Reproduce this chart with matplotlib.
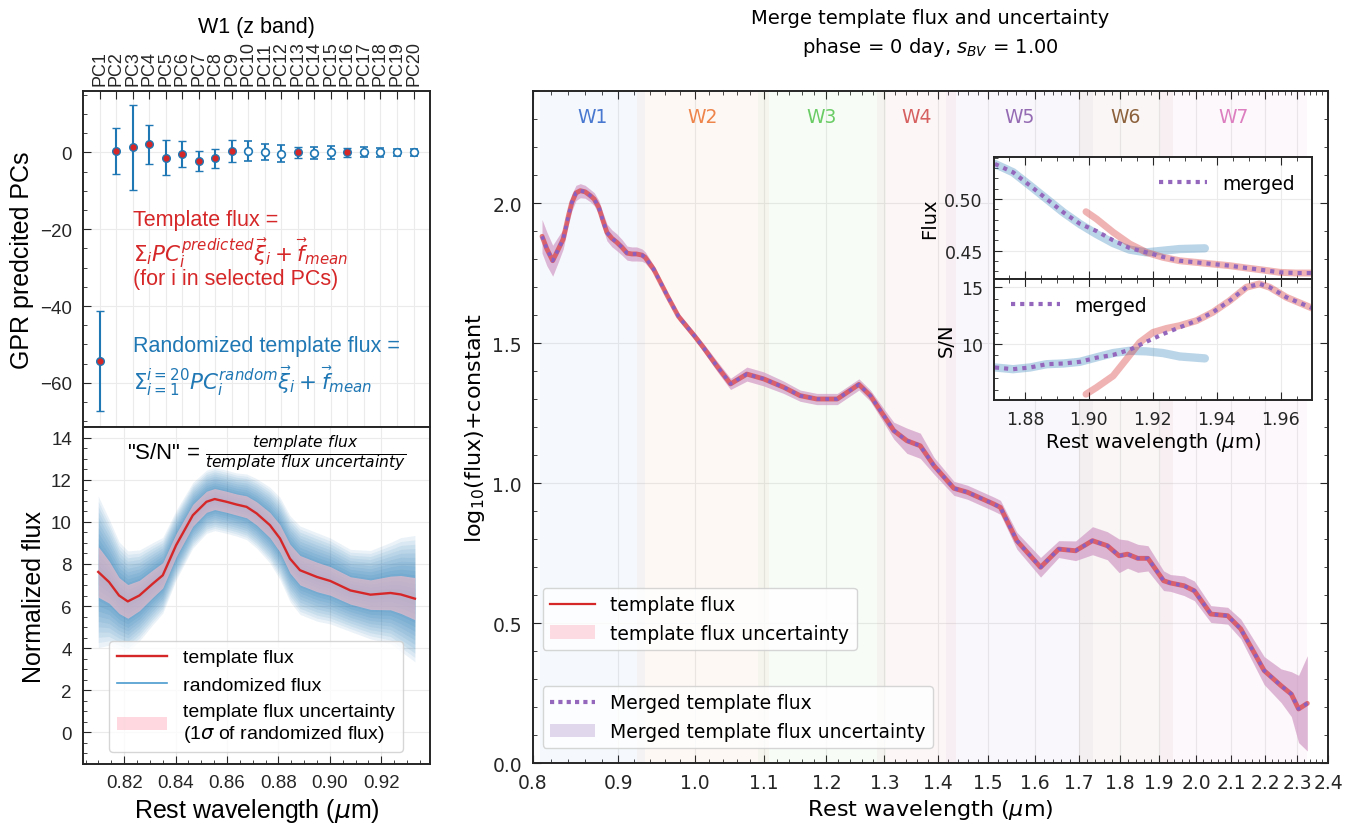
import matplotlib
matplotlib.use("Agg")
import matplotlib.pyplot as plt
import numpy as np
from matplotlib.lines import Line2D
from matplotlib.patches import Patch
from matplotlib.ticker import FixedLocator, MultipleLocator, NullFormatter, FuncFormatter

plt.rcParams["font.family"] = ["Liberation Sans", "DejaVu Sans"]
plt.rcParams["axes.edgecolor"] = "#262626"
plt.rcParams["axes.linewidth"] = 1.4
plt.rcParams["xtick.direction"] = "in"
plt.rcParams["ytick.direction"] = "in"
plt.rcParams["xtick.color"] = "#262626"
plt.rcParams["ytick.color"] = "#262626"
plt.rcParams["xtick.major.pad"] = 7
plt.rcParams["ytick.major.pad"] = 8
plt.rcParams["xtick.labelsize"] = 13.5
plt.rcParams["ytick.labelsize"] = 13.5
plt.rcParams["axes.labelsize"] = 18

# ---------------- data ----------------
pc_names = [f"PC{i}" for i in range(1, 21)]
pc_value = [-54.2, 0.3, 1.3, 2.1, -1.4, -0.4, -2.3, -1.5, 0.4, 0.3,
            0.1, -0.3, 0.0, -0.2, 0.0, 0.0, 0.1, 0.0, 0.0, 0.0]
pc_err = [13.0, 6.0, 11.0, 5.0, 4.6, 3.5, 2.6, 2.5, 2.8, 2.6,
          2.1, 2.2, 1.5, 1.5, 1.7, 1.2, 1.2, 1.2, 1.0, 0.8]
pc_selected = [1, 1, 1, 1, 1, 1, 1, 1, 1, 0, 0, 0, 1, 0, 0, 1, 0, 0, 0, 0]

# W1 template (normalized flux)
w1_wl = [0.8099, 0.8141, 0.8180, 0.8214, 0.8259, 0.8311, 0.8350, 0.8402, 0.8467,
         0.8520, 0.8552, 0.8598, 0.8637, 0.8676, 0.8715, 0.8767, 0.8806, 0.8845,
         0.8884, 0.8950, 0.9002, 0.9080, 0.9158, 0.9236, 0.9276, 0.9331]
w1_flux = [7.62, 7.14, 6.50, 6.22, 6.50, 7.06, 7.46, 8.89, 10.31,
           10.95, 11.08, 10.95, 10.82, 10.71, 10.40, 9.84, 9.21, 8.25,
           7.70, 7.38, 7.19, 6.74, 6.54, 6.62, 6.55, 6.35]
w1_sigma = [1.2, 1.0, 0.85, 0.8, 0.72, 0.65, 0.6, 0.55, 0.52,
            0.5, 0.5, 0.5, 0.5, 0.52, 0.55, 0.6, 0.65, 0.68,
            0.7, 0.7, 0.68, 0.65, 0.7, 0.8, 0.9, 1.0]

# merged log10 flux
wl = [0.810, 0.8154, 0.822, 0.8286, 0.834, 0.8401, 0.844, 0.8489, 0.854, 0.8597,
      0.866, 0.8705, 0.876, 0.8811, 0.886, 0.892, 0.898, 0.9045, 0.911, 0.917,
      0.923, 0.9299, 0.934, 0.945, 0.963, 0.978, 1.000, 1.012, 1.031, 1.051,
      1.075, 1.100, 1.131, 1.157, 1.184, 1.218, 1.255, 1.275, 1.299, 1.317,
      1.341, 1.366, 1.392, 1.431, 1.458, 1.512, 1.526, 1.561, 1.613, 1.654,
      1.693, 1.733, 1.769, 1.798, 1.819, 1.845, 1.871, 1.912, 1.930, 1.967,
      1.976, 1.995, 2.041, 2.089, 2.127, 2.197, 2.249, 2.281, 2.304, 2.332]
logflux = [1.881, 1.836, 1.794, 1.836, 1.871, 1.955, 2.002, 2.036, 2.044, 2.040,
           2.026, 2.014, 1.985, 1.937, 1.895, 1.874, 1.860, 1.842, 1.821, 1.818,
           1.818, 1.814, 1.806, 1.764, 1.669, 1.595, 1.525, 1.485, 1.419, 1.354,
           1.389, 1.372, 1.342, 1.312, 1.300, 1.300, 1.352, 1.312, 1.240, 1.187,
           1.151, 1.133, 1.062, 0.981, 0.967, 0.925, 0.913, 0.794, 0.699, 0.764,
           0.758, 0.794, 0.776, 0.740, 0.746, 0.731, 0.731, 0.651, 0.643, 0.633,
           0.627, 0.615, 0.532, 0.526, 0.479, 0.330, 0.276, 0.246, 0.193, 0.213]
logflux_err = [0.06, 0.06, 0.055, 0.045, 0.035, 0.032, 0.03, 0.027, 0.025, 0.023,
               0.022, 0.023, 0.025, 0.028, 0.03, 0.03, 0.03, 0.028, 0.025, 0.025,
               0.025, 0.022, 0.02, 0.015, 0.013, 0.013, 0.013, 0.015, 0.018, 0.02,
               0.025, 0.025, 0.022, 0.02, 0.02, 0.02, 0.02, 0.02, 0.025, 0.03,
               0.045, 0.045, 0.03, 0.025, 0.025, 0.025, 0.025, 0.03, 0.035, 0.03,
               0.035, 0.05, 0.05, 0.06, 0.05, 0.05, 0.045, 0.035, 0.03, 0.035,
               0.035, 0.035, 0.03, 0.03, 0.035, 0.05, 0.06, 0.08, 0.12, 0.17]

band_names = ["W1", "W2", "W3", "W4", "W5", "W6", "W7"]
band_lo = [0.808, 0.924, 1.092, 1.287, 1.415, 1.700, 1.902]
band_hi = [0.934, 1.108, 1.302, 1.435, 1.734, 1.938, 2.332]
band_colors = ["#4878d0", "#ee854a", "#6acc64", "#d65f5f", "#956cb4", "#8c613c", "#dc7ec0"]
main_xticks = [0.8, 0.9, 1.0, 1.1, 1.2, 1.3, 1.4, 1.5, 1.6, 1.7, 1.8, 1.9, 2.0, 2.1, 2.2, 2.3, 2.4]
main_yticks = [0.0, 0.5, 1.0, 1.5, 2.0]

# inset: W6 / W7 overlap
w6_flux_wl = [1.8706, 1.8763, 1.8816, 1.8868, 1.8920, 1.8972, 1.9024, 1.9076, 1.9128,
              1.9180, 1.9232, 1.9284, 1.9363]
w6_flux = [0.5339, 0.5258, 0.5129, 0.5000, 0.4871, 0.4758, 0.4661, 0.4574, 0.4510,
           0.4484, 0.4500, 0.4516, 0.4523]
w6_sn = [7.94, 7.79, 7.94, 8.23, 8.29, 8.44, 8.83, 9.21, 9.41,
         9.36, 9.21, 8.91, 8.74]
w7_flux_wl = [1.8991, 1.9024, 1.9076, 1.9128, 1.9180, 1.9232, 1.9284, 1.9337, 1.9388,
              1.9441, 1.9493, 1.9545, 1.9597, 1.9649, 1.9700]
w7_flux = [0.4877, 0.4807, 0.4678, 0.4565, 0.4484, 0.4436, 0.4403, 0.4387, 0.4371,
           0.4355, 0.4333, 0.4313, 0.4291, 0.4284, 0.4284]
w7_sn_wl = [1.8991, 1.9024, 1.9076, 1.9118, 1.9159, 1.9201, 1.9243, 1.9284, 1.9337,
            1.9388, 1.9441, 1.9493, 1.9534, 1.9566, 1.9618, 1.9700]
w7_sn = [5.59, 6.18, 7.20, 8.68, 10.15, 11.03, 11.38, 11.62, 12.06,
         12.80, 13.82, 15.00, 15.30, 15.00, 14.12, 13.15]
mg_flux_wl = [1.8706, 1.8763, 1.8816, 1.8868, 1.8920, 1.8972, 1.9024, 1.9076, 1.9128,
              1.9180, 1.9232, 1.9284, 1.9337, 1.9388, 1.9441, 1.9493, 1.9545, 1.9597,
              1.9649, 1.9700]
mg_flux = [0.5339, 0.5258, 0.5129, 0.5000, 0.4871, 0.4760, 0.4690, 0.4600, 0.4525,
           0.4484, 0.4440, 0.4403, 0.4387, 0.4371, 0.4355, 0.4333, 0.4313, 0.4291,
           0.4284, 0.4284]
mg_sn_wl = [1.8706, 1.8763, 1.8816, 1.8868, 1.8920, 1.8972, 1.9024, 1.9076, 1.9128,
            1.9180, 1.9232, 1.9284, 1.9337, 1.9388, 1.9441, 1.9493, 1.9534, 1.9566,
            1.9618, 1.9700]
mg_sn = [7.94, 7.79, 7.94, 8.23, 8.29, 8.44, 8.80, 9.05, 9.50,
         10.20, 10.88, 11.47, 12.06, 12.80, 13.82, 15.00, 15.30, 15.00,
         14.12, 13.15]

RED = "#d62728"
BLUE = "#1f77b4"
PURPLE = "#9467bd"
GRID = "#ebebeb"
DV = "DejaVu Sans"  # the right-hand panel uses the wider default font

fig = plt.figure(figsize=(13.64, 8.29), dpi=100)

# ---------------- top left: GPR predicted PCs ----------------
ax_pc = fig.add_axes([0.0609, 0.4837, 0.2544, 0.4053])
idx = np.arange(1, 21)
val = np.array(pc_value)
err = np.array(pc_err)
sel = np.array(pc_selected, dtype=bool)
ax_pc.errorbar(idx[sel], val[sel], yerr=err[sel], fmt="o", color=BLUE, ms=5.5,
               mfc=RED, mec=BLUE, mew=1.0, elinewidth=1.5, capsize=3, capthick=1.2)
ax_pc.errorbar(idx[~sel], val[~sel], yerr=err[~sel], fmt="o", color=BLUE, ms=5.5,
               mfc="white", mec=BLUE, mew=1.2, elinewidth=1.5, capsize=3, capthick=1.2)
ax_pc.set_xlim(0, 21)
ax_pc.set_ylim(-71.5, 16)
ax_pc.xaxis.tick_top()
ax_pc.set_xticks(idx)
ax_pc.set_xticklabels(pc_names, rotation=90, fontsize=13)
ax_pc.xaxis.set_label_position("top")
ax_pc.set_xlabel("W1 (z band)", fontsize=15.5, labelpad=6)
ax_pc.yaxis.set_major_locator(MultipleLocator(20))
ax_pc.yaxis.set_minor_locator(MultipleLocator(5))
ax_pc.tick_params(axis="y", which="major", length=6)
ax_pc.tick_params(axis="y", which="minor", length=3)
ax_pc.tick_params(axis="x", length=6, pad=4)
ax_pc.set_ylabel("GPR predcited PCs")
ax_pc.grid(True, color=GRID, lw=0.8)
ax_pc.set_axisbelow(True)
tx = 0.144
fs_note = 15.5
ax_pc.text(tx, 0.619, "Template flux =", color=RED, fontsize=fs_note, transform=ax_pc.transAxes, va="center")
ax_pc.text(tx, 0.521, r"$\Sigma_i PC_i^{predicted}\vec{\xi}_i+\vec{f}_{mean}$", color=RED,
           fontsize=fs_note, transform=ax_pc.transAxes, va="center")
ax_pc.text(tx, 0.443, "(for i in selected PCs)", color=RED, fontsize=fs_note, transform=ax_pc.transAxes, va="center")
ax_pc.text(tx, 0.244, "Randomized template flux =", color=BLUE, fontsize=fs_note, transform=ax_pc.transAxes, va="center")
ax_pc.text(tx, 0.140, r"$\Sigma_{i=1}^{i=20} PC_i^{random}\vec{\xi}_i+\vec{f}_{mean}$", color=BLUE,
           fontsize=fs_note, transform=ax_pc.transAxes, va="center")

# ---------------- bottom left: normalized flux ----------------
ax_bl = fig.add_axes([0.0609, 0.0772, 0.2544, 0.4065])
x1 = np.array(w1_wl)
f1 = np.array(w1_flux)
s1 = np.array(w1_sigma)
for k in np.linspace(0.3, 3.0, 14):
    ax_bl.fill_between(x1, f1 - k * s1, f1 + k * s1, color=BLUE, alpha=0.085, lw=0)
ax_bl.fill_between(x1, f1 - s1, f1 + s1, color="pink", alpha=0.6, lw=0)
ax_bl.plot(x1, f1, color=RED, lw=1.7)
ax_bl.set_xlim(0.804, 0.939)
ax_bl.set_ylim(-1.5, 14.5)
ax_bl.xaxis.set_major_locator(FixedLocator([0.82, 0.84, 0.86, 0.88, 0.90, 0.92]))
ax_bl.xaxis.set_major_formatter(FuncFormatter(lambda v, p: f"{v:.2f}"))
ax_bl.xaxis.set_minor_locator(MultipleLocator(0.005))
ax_bl.yaxis.set_major_locator(MultipleLocator(2))
ax_bl.yaxis.set_minor_locator(MultipleLocator(0.5))
ax_bl.tick_params(which="major", length=6)
ax_bl.tick_params(which="minor", length=3)
ax_bl.set_xlabel(r"Rest wavelength ($\mu$m)")
ax_bl.set_ylabel("Normalized flux")
ax_bl.grid(True, color=GRID, lw=0.8)
ax_bl.set_axisbelow(True)
ax_bl.text(0.53, 0.925, r'"S/N" = $\frac{template\ flux}{template\ flux\ uncertainty}$',
           transform=ax_bl.transAxes, ha="center", va="center", fontsize=16)
h_bl = [Line2D([], [], color=RED, lw=1.7),
        Line2D([], [], color="#4a9bd0", lw=1.2),
        Patch(facecolor="pink", alpha=0.6, lw=0)]
ax_bl.legend(h_bl, ["template flux", "randomized flux",
                    "template flux uncertainty\n" + r"(1$\sigma$ of randomized flux)"],
             loc="lower left", bbox_to_anchor=(0.075, 0.035), borderaxespad=0,
             handlelength=2.6, fontsize=14, labelspacing=0.5)

# ---------------- main panel ----------------
ax = fig.add_axes([0.3908, 0.0784, 0.5829, 0.8106])
ax.set_xscale("log")
for name, lo, hi, c in zip(band_names, band_lo, band_hi, band_colors):
    ax.axvspan(lo, hi, color=c, alpha=0.05, lw=0)
    ax.text(np.sqrt(lo * hi), 2.31, name, color=c, fontsize=13.5, family=DV,
            ha="center", va="center")
w = np.array(wl)
lf = np.array(logflux)
le = np.array(logflux_err)
ax.fill_between(w, lf - le, lf + le, color="pink", alpha=0.55, lw=0)
ax.fill_between(w, lf - le, lf + le, color=PURPLE, alpha=0.3, lw=0)
ax.plot(w, lf, color=RED, lw=3.5, alpha=0.6, solid_capstyle="round", solid_joinstyle="round")
ax.plot(w, lf, color="#8a5fc0", lw=2.6, ls=(0, (1, 1.4)))
ax.set_xlim(0.8, 2.4)
ax.set_ylim(0, 2.4)
ax.set_xticks(main_xticks, [f"{v:.1f}" for v in main_xticks], family=DV, fontsize=13.5)
ax.xaxis.set_minor_locator(FixedLocator(np.arange(0.8, 2.401, 0.02)))
ax.xaxis.set_minor_formatter(NullFormatter())
ax.set_yticks(main_yticks, [f"{v:.1f}" for v in main_yticks], family=DV, fontsize=13.5)
ax.yaxis.set_minor_locator(MultipleLocator(0.1))
ax.tick_params(which="both", top=True, right=True)
ax.tick_params(which="major", length=6)
ax.tick_params(which="minor", length=3)
ax.grid(True, which="major", color=GRID, lw=0.8)
ax.set_axisbelow(True)
ax.set_xlabel(r"Rest wavelength ($\mu$m)", family=DV, fontsize=16)
ax.set_ylabel(r"log$_{10}$(flux)+constant", family=DV, fontsize=16)
ax.set_title("Merge template flux and uncertainty\n" + r"phase = 0 day, $s_{BV}$ = 1.00",
             family=DV, fontsize=14, pad=28, linespacing=1.45)
leg_prop = {"family": DV, "size": 13.5}
leg1 = ax.legend([Line2D([], [], color=RED, lw=1.6), Patch(facecolor="pink", alpha=0.55, lw=0)],
                 ["template flux", "template flux uncertainty"],
                 loc="lower left", bbox_to_anchor=(0.012, 0.168), borderaxespad=0,
                 handlelength=2.4, prop=leg_prop)
ax.add_artist(leg1)
ax.legend([Line2D([], [], color=PURPLE, lw=3, ls=(0, (1, 1))), Patch(facecolor=PURPLE, alpha=0.25, lw=0)],
          ["Merged template flux", "Merged template flux uncertainty"],
          loc="lower left", bbox_to_anchor=(0.012, 0.022), borderaxespad=0,
          handlelength=2.4, prop=leg_prop)

# ---------------- inset ----------------
ax_f = fig.add_axes([0.7287, 0.6622, 0.2331, 0.1472])
ax_s = fig.add_axes([0.7287, 0.5163, 0.2331, 0.1460], sharex=ax_f)
ax_f.plot(w6_flux_wl, w6_flux, color=BLUE, lw=6, alpha=0.3, solid_capstyle="round")
ax_f.plot(w7_flux_wl, w7_flux, color=RED, lw=5, alpha=0.35, solid_capstyle="round")
ax_f.plot(mg_flux_wl, mg_flux, color=PURPLE, lw=3, ls=(0, (1, 1.2)), label="merged")
ax_s.plot(w6_flux_wl, w6_sn, color=BLUE, lw=6, alpha=0.3, solid_capstyle="round")
ax_s.plot(w7_sn_wl, w7_sn, color=RED, lw=5, alpha=0.35, solid_capstyle="round")
ax_s.plot(mg_sn_wl, mg_sn, color=PURPLE, lw=3, ls=(0, (1, 1.2)), label="merged")
ax_f.set_xlim(1.8703, 1.9698)
ax_f.set_ylim(0.4226, 0.5406)
ax_s.set_ylim(5.08, 15.73)
inset_xticks = [1.88, 1.90, 1.92, 1.94, 1.96]
ax_s.set_xticks(inset_xticks, [f"{v:.2f}" for v in inset_xticks], family=DV, fontsize=12.5)
ax_f.xaxis.set_minor_locator(MultipleLocator(0.005))
ax_f.set_yticks([0.45, 0.50], ["0.45", "0.50"], family=DV, fontsize=12.5)
ax_f.yaxis.set_minor_locator(MultipleLocator(0.01))
ax_s.set_yticks([10, 15], ["10", "15"], family=DV, fontsize=12.5)
ax_s.yaxis.set_minor_locator(MultipleLocator(1))
for a in (ax_f, ax_s):
    a.set_facecolor("white")
    a.tick_params(which="both", top=True, right=False)
    a.tick_params(which="major", length=6)
    a.tick_params(which="minor", length=3)
    a.grid(True, color=GRID, lw=0.8)
    a.set_axisbelow(True)
ax_f.tick_params(labelbottom=False)
ax_f.set_ylabel("Flux", family=DV, fontsize=14, labelpad=4)
ax_s.set_ylabel("S/N", family=DV, fontsize=14, labelpad=4)
ax_s.set_xlabel(r"Rest wavelength ($\mu$m)", family=DV, fontsize=14, labelpad=2)
ax_f.legend(loc="upper right", frameon=False, prop={"family": DV, "size": 13.5}, handlelength=2.6)
ax_s.legend(loc="upper left", frameon=False, prop={"family": DV, "size": 13.5}, handlelength=2.6)

plt.savefig("out.png", dpi=100)
